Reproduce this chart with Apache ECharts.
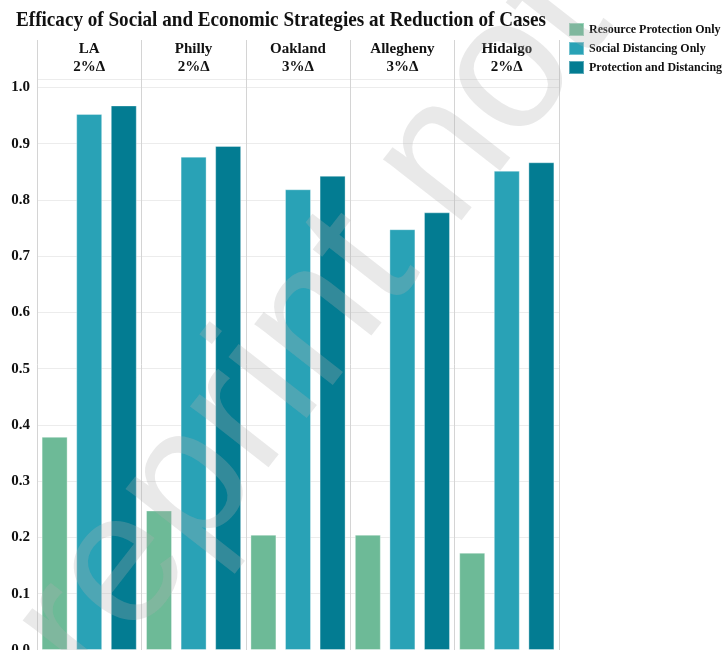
<!DOCTYPE html>
<html>
<head>
<meta charset="utf-8">
<script src="https://cdn.jsdelivr.net/npm/echarts@6/dist/echarts.min.js"></script>
<style>
html,body{margin:0;padding:0;background:#fff;overflow:hidden;}
#chart{width:726px;height:650px;}
</style>
</head>
<body>
<div id="chart"></div>
<script>
// ---- data ----
const cities = ['LA', 'Philly', 'Oakland', 'Allegheny', 'Hidalgo'];
const deltas = ['2%Δ', '2%Δ', '3%Δ', '3%Δ', '2%Δ'];
const seriesNames = ['Resource Protection Only', 'Social Distancing Only', 'Protection and Distancing'];
const resourceProtection = [0.379, 0.248, 0.205, 0.205, 0.173];
const socialDistancing = [0.953, 0.877, 0.819, 0.748, 0.852];
const protectionAndDistancing = [0.968, 0.896, 0.843, 0.778, 0.867];
const titleText = 'Efficacy of Social and Economic Strategies at Reduction of Cases';
const watermarkText = 'preprint not peer reviewed';

const colors = ['#6dba97', '#29a2b6', '#037c92'];
const serif = '"Liberation Serif", "Times New Roman", serif';

// measure title to mimic condensed look
const cv = document.createElement('canvas').getContext('2d');
cv.font = 'bold 22px ' + serif;
const titleW = cv.measureText(titleText).width;
const titleScale = 530 / titleW;

const chart = echarts.init(document.getElementById('chart'), null, {renderer: 'canvas'});

const mkBar = (name, data, i) => ({
  name: name,
  type: 'bar',
  data: data,
  barWidth: 26,
  barGap: '33%',
  itemStyle: {color: colors[i], borderColor: 'rgba(255,255,255,0.35)', borderWidth: 1},
  xAxisIndex: 0, yAxisIndex: 0
});

const wmAngle = 52 * Math.PI / 180;

const option = {
  backgroundColor: '#fff',
  animation: false,
  color: colors,
  legend: {
    orient: 'vertical',
    left: 563,
    top: 17,
    itemWidth: 15,
    itemHeight: 13,
    itemGap: 4,
    icon: 'rect',
    textStyle: {fontFamily: serif, fontWeight: 'bold', fontSize: 12, color: '#111'},
    data: seriesNames
  },
  grid: [
    {left: 37, right: 167, top: 79, bottom: 0, containLabel: false, outerBoundsMode: 'none'},
    {left: 37, right: 167, top: 40, height: 39, containLabel: false, outerBoundsMode: 'none'}
  ],
  xAxis: [
    {
      type: 'category',
      gridIndex: 0,
      position: 'top',
      data: cities,
      axisLine: {show: false},
      axisTick: {show: false},
      splitLine: {show: true, lineStyle: {color: '#d4d4d4', width: 1}},
      axisLabel: {
        margin: 3,
        fontFamily: serif,
        fontWeight: 'bold',
        fontSize: 15,
        lineHeight: 18,
        color: '#111',
        formatter: (v, idx) => v + '\n' + deltas[idx]
      }
    },
    {
      type: 'category',
      gridIndex: 1,
      data: cities,
      axisLine: {show: false},
      axisTick: {show: false},
      axisLabel: {show: false},
      splitLine: {show: true, lineStyle: {color: '#d4d4d4', width: 1}}
    }
  ],
  yAxis: [
    {
      type: 'value',
      gridIndex: 0,
      min: 0,
      max: 1.015,
      interval: 0.1,
      axisLine: {show: false},
      axisTick: {show: false},
      splitLine: {show: true, lineStyle: {color: '#ececec', width: 1}},
      axisLabel: {
        margin: 7,
        fontFamily: serif,
        fontWeight: 'bold',
        fontSize: 15,
        color: '#111',
        showMaxLabel: false,
        formatter: v => (Math.abs(v * 10 - Math.round(v * 10)) < 1e-6 ? v.toFixed(1) : '')
      }
    },
    {
      type: 'value',
      gridIndex: 1,
      min: 0, max: 1,
      show: false
    }
  ],
  series: [
    mkBar(seriesNames[0], resourceProtection, 0),
    mkBar(seriesNames[1], socialDistancing, 1),
    mkBar(seriesNames[2], protectionAndDistancing, 2)
  ],
  graphic: [
    {
      type: 'text',
      left: 16,
      top: 9,
      scaleX: titleScale,
      z: 100,
      style: {text: titleText, font: 'bold 22px ' + serif, fill: '#111'}
    },
    {
      type: 'text',
      x: -12,
      y: 742,
      rotation: wmAngle,
      z: 200,
      silent: true,
      style: {
        text: watermarkText,
        font: '188px "Liberation Sans", Arial, sans-serif',
        fill: 'rgba(175,175,175,0.28)',
        align: 'left',
        verticalAlign: 'middle'
      }
    }
  ]
};
chart.setOption(option);
</script>
</body>
</html>
